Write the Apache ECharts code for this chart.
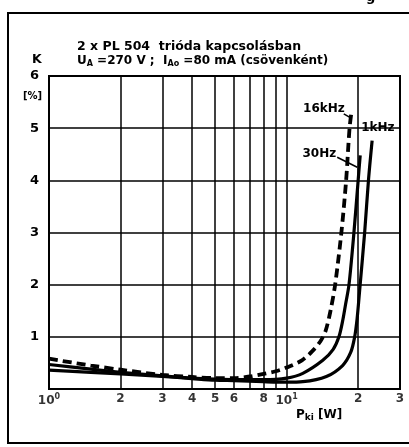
<!DOCTYPE html>
<html>
<head>
<meta charset="utf-8">
<script src="https://cdn.jsdelivr.net/npm/echarts@6/dist/echarts.min.js"></script>
<style>
  html, body { margin: 0; padding: 0; background: #fff; }
  #chart { width: 409px; height: 447px; }
</style>
</head>
<body>
<div id="chart"></div>
<script>
// Output power P_ki [W] and distortion K [%] for each measuring frequency
const P_16k = [1, 1.5, 2, 3, 4, 5, 6, 7, 8, 9, 10, 11.6, 12.8, 13.9, 14.6, 15.3, 16.0, 17.0, 17.8, 18.4, 18.8];
const K_16k = [0.58, 0.45, 0.37, 0.27, 0.23, 0.21, 0.21, 0.24, 0.29, 0.34, 0.41, 0.55, 0.72, 0.92, 1.12, 1.5, 2.0, 3.0, 4.0, 5.0, 5.35];

const P_30 = [1, 1.5, 2, 3, 4, 5, 6, 8, 10, 11.7, 14.2, 15.7, 16.6, 17.2, 17.7, 18.3, 19.2, 20.0, 20.4];
const K_30 = [0.47, 0.38, 0.32, 0.25, 0.21, 0.19, 0.18, 0.18, 0.21, 0.30, 0.55, 0.76, 1.0, 1.3, 1.62, 2.0, 3.0, 4.0, 4.48];

const P_1k = [1, 1.5, 2, 3, 4, 5, 6, 8, 10, 11.7, 14.7, 17.2, 18.6, 19.3, 19.8, 20.3, 21.3, 22.1, 22.9];
const K_1k = [0.36, 0.32, 0.29, 0.24, 0.20, 0.17, 0.16, 0.14, 0.13, 0.14, 0.24, 0.45, 0.70, 0.98, 1.35, 1.9, 3.0, 4.0, 4.76];

const curveNames = ['16kHz', '30Hz', '1kHz'];

// Axis ticks and grid
const xGridValues = [1, 2, 3, 4, 5, 6, 7, 8, 9, 10, 20, 30];
const xTickValues = [1, 2, 3, 4, 5, 6, 8, 10, 20, 30];
const xTickLabels = ['10^0', '2', '3', '4', '5', '6', '8', '10^1', '2', '3'];
const yTickLabels = ['', '1', '2', '3', '4', '5', '6'];

const FONT = 'DejaVu Sans';
const zip = (xs, ys) => xs.map((x, i) => [x, ys[i]]);

const chart = echarts.init(document.getElementById('chart'), null, { renderer: 'canvas' });

function tickLabel(s) {
  const m = /^(\d+)\^(\d+)$/.exec(s);
  return m ? '{b|' + m[1] + '}{sup|' + m[2] + '}' : '{b|' + s + '}';
}

const curveStyle = { color: '#000', width: 3.2 };

chart.setOption({
  animation: false,
  backgroundColor: '#fff',
  grid: {
    left: 49, right: 9, top: 76, bottom: 58,
    show: true, borderColor: '#000', borderWidth: 2
  },
  xAxis: {
    type: 'log', logBase: 10, min: 1, max: 30,
    axisLine: { show: true, lineStyle: { color: '#000', width: 2 } },
    axisTick: { show: false },
    axisLabel: { show: false },
    splitLine: { show: false },
    minorSplitLine: { show: false }
  },
  yAxis: {
    type: 'value', min: 0, max: 6, interval: 1,
    axisLine: { show: true, lineStyle: { color: '#000', width: 2 } },
    axisTick: { show: false },
    axisLabel: {
      color: '#000', fontFamily: FONT, fontWeight: 'bold', fontSize: 13, margin: 10,
      formatter: v => yTickLabels[v] || ''
    },
    splitLine: { show: true, lineStyle: { color: '#000', width: 1.5 } }
  },
  series: [
    {
      // vertical grid lines of the logarithmic axis
      type: 'line', data: [], silent: true,
      markLine: {
        silent: true, symbol: 'none', label: { show: false },
        lineStyle: { color: '#000', width: 1.5, type: 'solid' },
        data: xGridValues.map(v => ({ xAxis: v }))
      }
    },
    {
      // x tick labels
      type: 'scatter', silent: true, symbolSize: 0,
      data: xTickValues.map(v => [v, 0]),
      label: {
        show: true, position: 'bottom', distance: 4,
        formatter: p => tickLabel(xTickLabels[p.dataIndex]),
        rich: {
          b: { color: '#000', fontFamily: FONT, fontWeight: 'bold', fontSize: 12 },
          sup: { color: '#000', fontFamily: FONT, fontWeight: 'bold', fontSize: 8, padding: [0, 0, 8, 0] }
        }
      }
    },
    {
      name: curveNames[0], type: 'line', data: zip(P_16k, K_16k), showSymbol: false,
      smooth: 0.3,
      lineStyle: { color: '#000', width: 3.8, type: [9, 5] }
    },
    {
      name: curveNames[1], type: 'line', data: zip(P_30, K_30), showSymbol: false,
      smooth: 0.3, lineStyle: curveStyle
    },
    {
      name: curveNames[2], type: 'line', data: zip(P_1k, K_1k), showSymbol: false,
      smooth: 0.3, lineStyle: curveStyle
    }
  ]
});

// Annotations placed relative to the curve ends
const end16 = chart.convertToPixel({ gridIndex: 0 }, [P_16k[P_16k.length - 1], K_16k[K_16k.length - 1]]);
const end30 = chart.convertToPixel({ gridIndex: 0 }, [P_30[P_30.length - 1], K_30[K_30.length - 1]]);
const end1k = chart.convertToPixel({ gridIndex: 0 }, [P_1k[P_1k.length - 1], K_1k[K_1k.length - 1]]);

const txt = (x, y, text, extra) => ({
  type: 'text', x, y,
  style: Object.assign({ text, fill: '#000', font: 'bold 12px "' + FONT + '"' }, extra || {})
});
const seg = (x1, y1, x2, y2, w) => ({
  type: 'line', shape: { x1, y1, x2, y2 }, style: { stroke: '#000', lineWidth: w || 1.5 }
});

chart.setOption({
  graphic: [
    // outer frame
    { type: 'rect', shape: { x: 8, y: 13, width: 430, height: 430 }, style: { fill: 'none', stroke: '#000', lineWidth: 2 } },
    txt(366, -9, 'g', { font: 'bold 13px "' + FONT + '"' }),
    // heading
    txt(77, 40, '2 x PL 504  trióda kapcsolásban', { font: 'bold 12.5px "' + FONT + '"' }),
    {
      type: 'text', x: 77, y: 53,
      style: {
        text: '{m|U}{s|A}{m| =270 V ;  I}{s|Ao}{m| =80 mA (csövenként)}',
        rich: {
          m: { fill: '#000', font: 'bold 12px "' + FONT + '"' },
          s: { fill: '#000', font: 'bold 8px "' + FONT + '"', padding: [7, 0, 0, 0] }
        }
      }
    },
    // axis names
    txt(32, 53, 'K', { font: 'bold 12.5px "' + FONT + '"' }),
    txt(23, 91, '[%]', { font: 'bold 10px "' + FONT + '"' }),
    {
      type: 'text', x: 296, y: 407,
      style: {
        text: '{m|P}{s|ki}{m| [W]}',
        rich: {
          m: { fill: '#000', font: 'bold 12px "' + FONT + '"' },
          s: { fill: '#000', font: 'bold 9px "' + FONT + '"', padding: [6, 0, 0, 0] }
        }
      }
    },
    // curve labels and leaders
    txt(end16[0] - 7, end16[1] - 1, curveNames[0], { align: 'right', verticalAlign: 'middle' }),
    seg(end16[0] - 8, end16[1] + 4, end16[0] - 1, end16[1] + 8),
    txt(end1k[0] - 11, end1k[1] - 13, curveNames[2], { align: 'left', verticalAlign: 'middle' }),
    txt(end30[0] - 24, end30[1] - 1, curveNames[1], { align: 'right', verticalAlign: 'middle' }),
    seg(end30[0] - 23, end30[1] + 2, end30[0] - 3, end30[1] + 12)
  ]
});
</script>
</body>
</html>
